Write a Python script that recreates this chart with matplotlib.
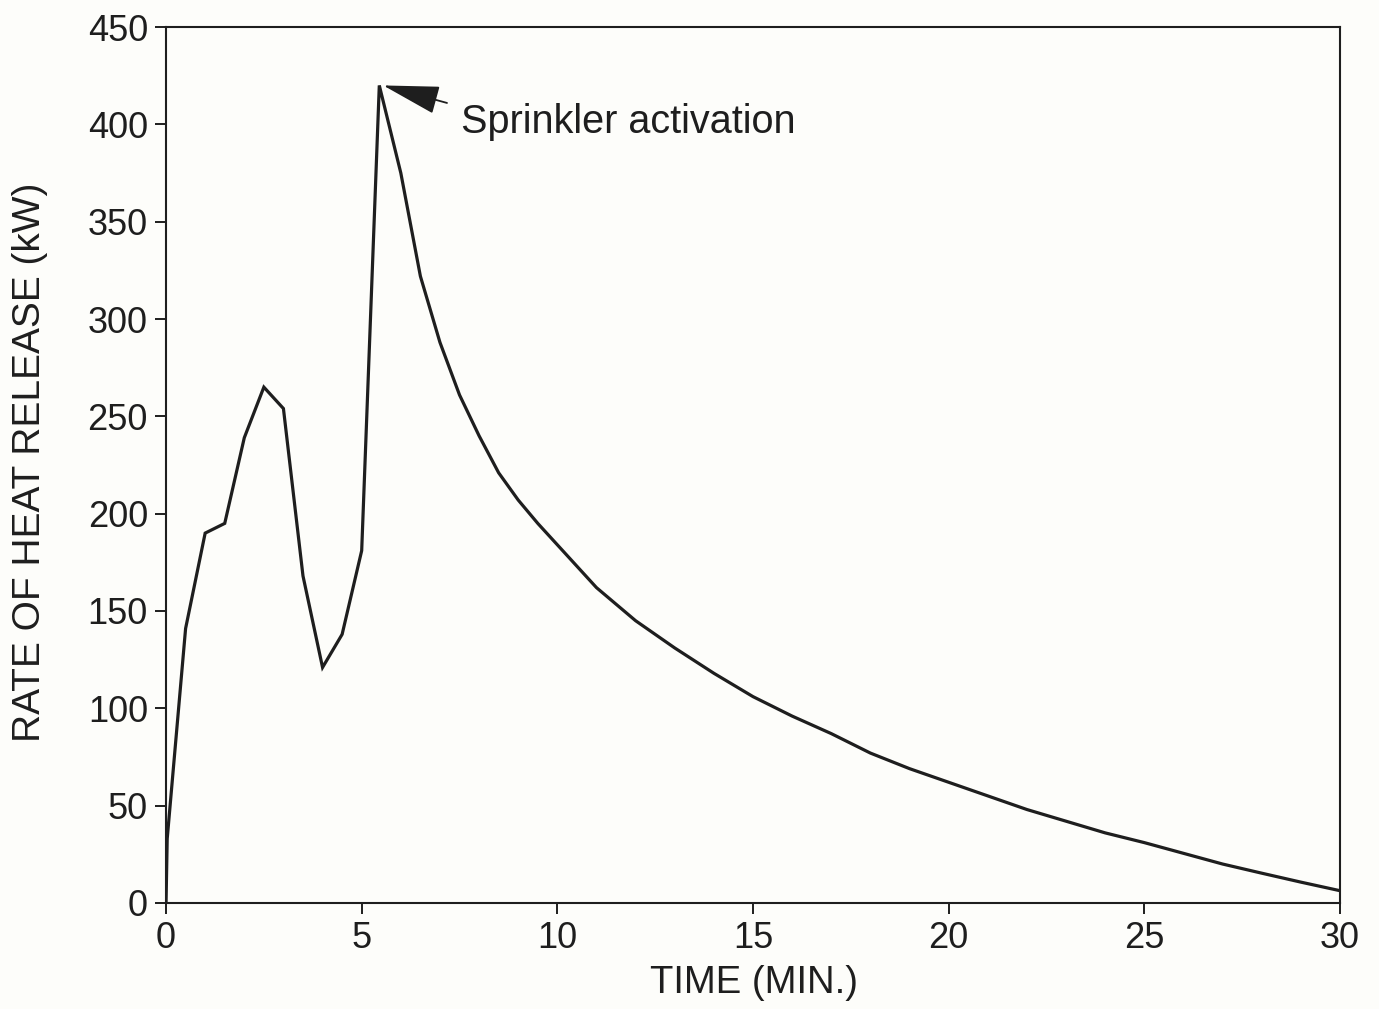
import matplotlib
matplotlib.use("Agg")
import matplotlib.pyplot as plt

plt.rcParams['font.family'] = ['Liberation Sans', 'DejaVu Sans']

# Heat release rate history (time in minutes, HRR in kW)
time_min = [0.0, 0.03, 0.5, 1.0, 1.5, 2.0, 2.5, 3.0, 3.5, 4.0, 4.5, 5.0, 5.45,
            6.0, 6.5, 7.0, 7.5, 8.0, 8.5, 9.0, 9.5, 10, 11, 12, 13, 14, 15,
            16, 17, 18, 19, 20, 21, 22, 23, 24, 25, 26, 27, 28, 29, 30]
hrr_kw = [0, 33, 141, 190, 195, 239, 265, 254, 168, 121, 138, 181, 420,
          375, 322, 288, 261, 240, 221, 207, 195, 184, 162, 145, 131, 118, 106,
          96, 87, 77, 69, 62, 55, 48, 42, 36, 31, 25.5, 20, 15.3, 10.7, 6.3]

x_ticks = [0, 5, 10, 15, 20, 25, 30]
y_ticks = [0, 50, 100, 150, 200, 250, 300, 350, 400, 450]

annotation_text = "Sprinkler activation"
peak_time, peak_hrr = 5.55, 420
tail_time, tail_hrr = 7.18, 411

ink = "#1e1e1e"
bg = "#fdfdfa"

fig = plt.figure(figsize=(13.79, 10.09), dpi=100, facecolor=bg)
ax = fig.add_axes([0.1204, 0.1051, 0.9717 - 0.1204, 0.9732 - 0.1051])
ax.set_facecolor(bg)

ax.plot(time_min, hrr_kw, color=ink, lw=2.3, solid_joinstyle='miter')

ax.set_xlim(0, 30)
ax.set_ylim(0, 450)
ax.set_xticks(x_ticks)
ax.set_yticks(y_ticks)
ax.tick_params(axis='both', direction='out', length=8, width=1.4, color=ink,
               labelsize=26, labelcolor=ink, pad=5)
for s in ax.spines.values():
    s.set_color(ink)
    s.set_linewidth(1.5)

# Arrow marking sprinkler activation
ax.annotate('', xy=(peak_time, peak_hrr), xytext=(tail_time, tail_hrr),
            arrowprops=dict(arrowstyle='-|>,head_length=1.8,head_width=0.45',
                            mutation_scale=20, color=ink, lw=1.3,
                            shrinkA=0, shrinkB=0))
ax.text(7.54, 401, annotation_text, fontsize=28.5, color=ink,
        ha='left', va='center')

fig.text(30 / 1379, 1 - 462 / 1009, "RATE OF HEAT RELEASE (kW)", rotation=90,
         fontsize=28, color=ink, ha='center', va='center')
fig.text(754 / 1379, 1 - 983 / 1009, "TIME (MIN.)", fontsize=27.5, color=ink,
         ha='center', va='center')

fig.savefig("out.png", dpi=100, facecolor=bg)
